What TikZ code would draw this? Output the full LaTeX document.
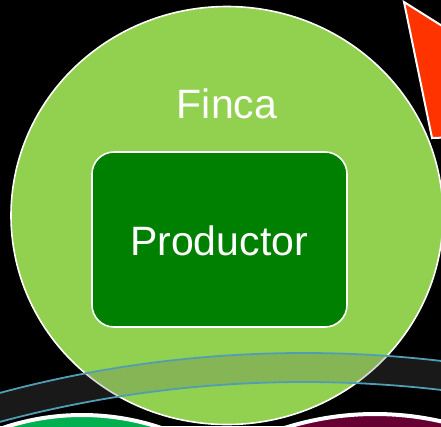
\documentclass[tikz,border=0pt]{standalone}
\usepackage{fontspec}
\setmainfont{Liberation Sans}
\usepackage{tikz}
\usetikzlibrary{positioning,shapes.geometric}

\definecolor{fincagreen}{HTML}{92D050}
\definecolor{prodgreen}{HTML}{008000}
\definecolor{arrowred}{HTML}{FF3300}
\definecolor{ringteal}{RGB}{80,158,180}
\definecolor{ringgray}{HTML}{666666}
\definecolor{lowgreen}{HTML}{00B050}
\definecolor{lowmaroon}{HTML}{660033}

\begin{document}
\begin{tikzpicture}[x=1pt, y=-1pt,
    every node/.style={inner sep=0pt, text=white},
    bigtext/.style={font=\fontsize{41}{48}\selectfont},
    teal line/.style={draw=ringteal, line width=1.8pt}]

    \useasboundingbox (0,0) rectangle (441,426);
    \fill[black] (0,0) rectangle (441,426);
    \clip (0,0) rectangle (441,426);

    % red shape, top right
    \draw[fill=arrowred, draw=white, line width=2pt]
        (404,2) -- (490,56) -- (490,136) -- (432,138) -- cycle;

    % the farm
    \node[ellipse, draw=white, line width=1.6pt, fill=fincagreen,
        minimum width=432pt, minimum height=418pt
    ](finca) at (227,215.5) {};
    \node[bigtext, anchor=base](fincalabel) at (227,118) {Finca};

    \node[draw=white, line width=1.6pt, fill=prodgreen,
        rounded corners=22pt,
        minimum width=255pt, minimum height=175pt
    ](productor) at (219.5,239.5) {};
    \node[bigtext, anchor=base](productorlabel) at (219,255) {Productor};

    % band across the bottom
    \fill[ringgray, fill opacity=0.25, even odd rule]
        (304,1524) circle[radius=1171pt] (304,1553) circle[radius=1171pt];
    \draw[teal line] (304,1524) circle[radius=1171pt];
    \draw[teal line] (304,1553) circle[radius=1171pt];

    % neighbours below
    \draw[fill=lowgreen, draw=white, line width=4pt]
        (82,663) circle[radius=248pt];
    \draw[fill=lowmaroon, draw=white, line width=4pt]
        (375,712) circle[radius=298pt];
\end{tikzpicture}
\end{document}
